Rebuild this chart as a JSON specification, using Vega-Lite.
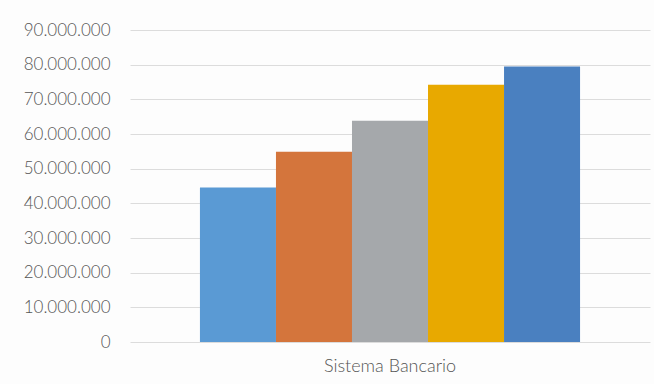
{
  "$schema": "https://vega.github.io/schema/vega-lite/v6.json",
  "width": 520,
  "height": 312,
  "autosize": {"type": "none"},
  "padding": {"left": 130, "top": 30, "right": 4, "bottom": 42},
  "background": "#fdfdfd",
  "data": {
    "values": [
      {"grupo": "Sistema Bancario", "serie": "Serie 1", "valor": 44600000},
      {"grupo": "Sistema Bancario", "serie": "Serie 2", "valor": 54900000},
      {"grupo": "Sistema Bancario", "serie": "Serie 3", "valor": 63800000},
      {"grupo": "Sistema Bancario", "serie": "Serie 4", "valor": 74200000},
      {"grupo": "Sistema Bancario", "serie": "Serie 5", "valor": 79500000}
    ]
  },
  "mark": {"type": "bar"},
  "encoding": {
    "x": {
      "field": "grupo",
      "type": "nominal",
      "title": null,
      "scale": {"paddingInner": 0, "paddingOuter": 0.184},
      "axis": {
        "domain": false,
        "ticks": false,
        "labelAngle": 0,
        "labelPadding": 15,
        "labelFont": "Lato",
        "labelFontSize": 18,
        "labelFontWeight": 300,
        "labelColor": "#555555"
      }
    },
    "xOffset": {"field": "serie", "type": "nominal", "scale": {"paddingInner": 0, "paddingOuter": 0}},
    "y": {
      "field": "valor",
      "type": "quantitative",
      "title": null,
      "scale": {"domain": [0, 90000000], "nice": false},
      "axis": {
        "values": [0, 10000000, 20000000, 30000000, 40000000, 50000000, 60000000, 70000000, 80000000, 90000000],
        "format": ",d",
        "domain": false,
        "ticks": false,
        "labelPadding": 20,
        "labelFont": "Lato",
        "labelFontSize": 17,
        "labelFontWeight": 300,
        "labelColor": "#555555",
        "grid": true,
        "gridColor": "#dcdcdc",
        "gridWidth": 1
      }
    },
    "color": {
      "field": "serie",
      "type": "nominal",
      "legend": null,
      "scale": {
        "domain": ["Serie 1", "Serie 2", "Serie 3", "Serie 4", "Serie 5"],
        "range": ["#5a9ad4", "#d4753c", "#a5a8ab", "#e8a900", "#4a80c0"]
      }
    }
  },
  "config": {
    "view": {"stroke": null},
    "locale": {
      "number": {"decimal": ",", "thousands": ".", "grouping": [3], "currency": ["$", ""]}
    }
  }
}
